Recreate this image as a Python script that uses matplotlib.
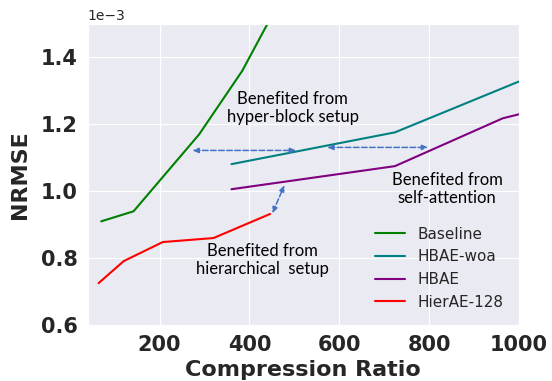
import numpy as np
import matplotlib
matplotlib.use('Agg')
import matplotlib.pyplot as plt
import seaborn as sns

# compression ratio / NRMSE readings
baseline_x = [70, 142, 288, 384, 512]
baseline_y = [0.91e-3, 0.94e-3, 1.17e-3, 1.36e-3, 1.68e-3]

woa_x = [360, 724, 1000]
woa_y = [1.081e-3, 1.176e-3, 1.328e-3]

hbae_x = [360, 724, 964, 1000]
hbae_y = [1.006e-3, 1.075e-3, 1.218e-3, 1.23e-3]

hier_x = [64, 120, 207, 320, 446]
hier_y = [0.725e-3, 0.791e-3, 0.848e-3, 0.86e-3, 0.932e-3]

names = ['Baseline', 'HBAE-woa', 'HBAE', 'HierAE-128']
colors = ['green', 'teal', 'purple', 'red']

# (start, end) pairs for the dashed arrows
arrows = [((273, 1.122e-3), (504, 1.122e-3)),
          ((573, 1.131e-3), (798, 1.131e-3)),
          ((451, 0.934e-3), (478, 1.018e-3))]

notes = [('Benefited from\nhyper-block setup', 496, 1.248e-3),
         ('Benefited from\nself-attention', 840, 1.006e-3),
         ('Benefited from\nhierarchical  setup', 429, 0.794e-3)]

sns.set_style('darkgrid')

fig = plt.figure(figsize=(5.52, 3.81), dpi=100)
ax = fig.add_axes([0.159, 0.147, 0.781, 0.79])

xs = [baseline_x, woa_x, hbae_x, hier_x]
ys = [baseline_y, woa_y, hbae_y, hier_y]
for x, y, n, c in zip(xs, ys, names, colors):
    ax.plot(x, y, color=c, lw=1.5, label=n)

for (p0, p1) in arrows:
    ax.annotate('', xy=p1, xytext=p0,
                arrowprops=dict(arrowstyle='<|-|>,head_width=0.15,head_length=0.35',
                                ls='--', color='#4472C4', lw=1.1,
                                shrinkA=0, shrinkB=0))

for txt, tx, ty in notes:
    ax.text(tx, ty, txt, ha='center', va='center', fontsize=12,
            family=['Lato', 'DejaVu Sans'], color='black', linespacing=1.15)

ax.set_xlim(40, 1000)
ax.set_ylim(0.6e-3, 1.5e-3)
ax.set_xticks([200, 400, 600, 800, 1000])
ax.set_yticks([0.6e-3, 0.8e-3, 1.0e-3, 1.2e-3, 1.4e-3])
ax.ticklabel_format(axis='y', style='sci', scilimits=(-3, -3))
ax.tick_params(labelsize=15)
for lab in ax.get_xticklabels() + ax.get_yticklabels():
    lab.set_fontweight('bold')
ax.yaxis.get_offset_text().set_fontsize(10)

ax.set_xlabel('Compression Ratio', fontsize=16, fontweight='bold', labelpad=4)
ax.set_ylabel('NRMSE', fontsize=16, fontweight='bold', labelpad=8)

ax.legend(loc='lower right', frameon=False, fontsize=11, borderaxespad=0.6)

fig.savefig('out.png', dpi=100)
